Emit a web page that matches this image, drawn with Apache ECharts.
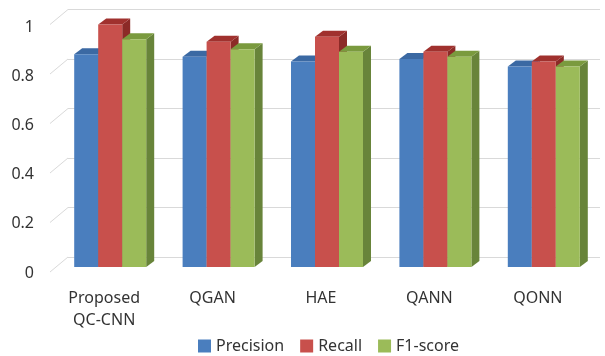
<!DOCTYPE html>
<html>
<head>
<meta charset="utf-8">
<script src="https://cdn.jsdelivr.net/npm/echarts@6/dist/echarts.min.js"></script>
<style>
  html, body { margin: 0; padding: 0; background: #fff; }
  #chart { width: 605px; height: 356px; }
</style>
</head>
<body>
<div id="chart"></div>
<script>
// Models compared and their scores
const categories = ['Proposed\nQC-CNN', 'QGAN', 'HAE', 'QANN', 'QONN'];
const precision = [0.86, 0.85, 0.83, 0.84, 0.81];
const recall    = [0.98, 0.91, 0.93, 0.87, 0.83];
const f1score   = [0.92, 0.88, 0.87, 0.85, 0.81];
const yTicks    = [0, 0.2, 0.4, 0.6, 0.8, 1];

// Face colours for each metric: front, top, side
const palette = {
  Precision: { front: '#4a7ebe', top: '#3b69a3', side: '#345d92' },
  Recall:    { front: '#c8504c', top: '#a0312e', side: '#8c2a27' },
  'F1-score':{ front: '#9bbb59', top: '#7a9a3e', side: '#68843a' }
};

const BAR_W = 24;      // width of one bar face
const DEPTH_X = 8;     // bar depth, horizontal component
const DEPTH_Y = -6;    // bar depth, vertical component
const FONT = '"Noto Sans", "Open Sans", sans-serif';
const TEXT = '#333333';

function barSeries(name, values, slot) {
  const c = palette[name];
  return {
    name: name,
    type: 'custom',
    xAxisIndex: 0,
    yAxisIndex: 0,
    itemStyle: { color: c.front },
    z: 5 + slot,
    data: values.map((v, i) => [i, v]),
    renderItem: function (params, api) {
      const top = api.coord([api.value(0), api.value(1)]);
      const base = api.coord([api.value(0), 0]);
      const x0 = top[0] - 1.5 * BAR_W + slot * BAR_W;
      const x1 = x0 + BAR_W;
      const yT = top[1], yB = base[1];
      return {
        type: 'group',
        children: [
          { type: 'polygon', shape: { points: [[x1, yT], [x1 + DEPTH_X, yT + DEPTH_Y], [x1 + DEPTH_X, yB + DEPTH_Y], [x1, yB]] },
            style: { fill: c.side } },
          { type: 'polygon', shape: { points: [[x0, yT], [x1, yT], [x1 + DEPTH_X, yT + DEPTH_Y], [x0 + DEPTH_X, yT + DEPTH_Y]] },
            style: { fill: c.top } },
          { type: 'rect', shape: { x: x0, y: yT, width: BAR_W, height: yB - yT },
            style: { fill: c.front } }
        ]
      };
    }
  };
}

const chart = echarts.init(document.getElementById('chart'), null, { renderer: 'canvas' });

chart.setOption({
  animation: false,
  backgroundColor: '#ffffff',
  legend: {
    left: 193, top: 333,
    itemWidth: 13, itemHeight: 13, itemGap: 16,
    icon: 'rect',
    textStyle: { fontFamily: FONT, fontSize: 16, color: TEXT },
    data: ['Precision', 'Recall', 'F1-score']
  },
  grid: [
    // front plane of the bars
    { left: 56, right: 7, top: 19.5, bottom: 89 },
    // back wall carrying the gridlines
    { left: 68, right: 5, top: 9.5, bottom: 99 },
    // front edge carrying the value labels
    { left: 40, right: 550, top: 27, bottom: 83 }
  ],
  xAxis: [
    { gridIndex: 0, type: 'category', data: categories,
      axisLine: { show: false }, axisTick: { show: false }, splitLine: { show: false },
      axisLabel: { margin: 20, padding: [0, 12, 0, 0], lineHeight: 22,
        fontFamily: FONT, fontSize: 16, color: TEXT } },
    { gridIndex: 1, type: 'value', min: 0, max: 1, show: false },
    { gridIndex: 2, type: 'value', min: 0, max: 1, show: false }
  ],
  yAxis: [
    { gridIndex: 0, type: 'value', min: 0, max: 1, interval: 0.2, show: false },
    { gridIndex: 1, type: 'value', min: 0, max: 1, interval: 0.2,
      axisLine: { show: false }, axisTick: { show: false }, axisLabel: { show: false },
      splitLine: { lineStyle: { color: '#d9d9d9', width: 1 } } },
    { gridIndex: 2, type: 'value', min: 0, max: 1, interval: 0.2,
      axisLine: { show: false }, axisTick: { show: false }, splitLine: { show: false },
      axisLabel: { margin: 6, fontFamily: FONT, fontSize: 16, color: TEXT,
        formatter: v => String(+v.toFixed(1)) } }
  ],
  series: [
    // side-wall lines joining the value labels to the back-wall gridlines
    {
      type: 'custom',
      xAxisIndex: 1, yAxisIndex: 1,
      silent: true, z: 1,
      data: yTicks.map(v => [0, v]),
      renderItem: function (params, api) {
        const back = api.coord([0, api.value(1)]);
        return {
          type: 'line',
          shape: { x1: back[0] - 18, y1: back[1] + 15, x2: back[0], y2: back[1] },
          style: { stroke: '#d9d9d9', lineWidth: 1 }
        };
      }
    },
    barSeries('Precision', precision, 0),
    barSeries('Recall', recall, 1),
    barSeries('F1-score', f1score, 2)
  ]
});
</script>
</body>
</html>
